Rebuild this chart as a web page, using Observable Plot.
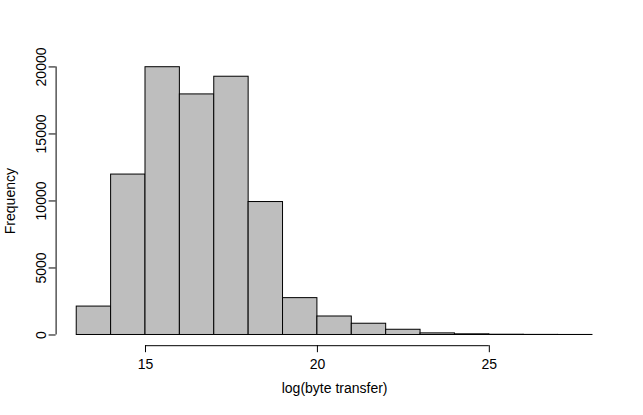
<!DOCTYPE html>
<html>
<head>
<meta charset="utf-8">
<script src="https://cdn.jsdelivr.net/npm/d3@7"></script>
<script src="https://cdn.jsdelivr.net/npm/@observablehq/plot@0.6"></script>
<style>
  html, body { margin: 0; padding: 0; background: #fff; }
</style>
</head>
<body>
<div id="chart"></div>
<script>
// Histogram bins (log byte transfer) and frequencies
const binStarts = [13, 14, 15, 16, 17, 18, 19, 20, 21, 22, 23, 24, 25, 26, 27];
const binWidth = 1;
const counts = [2120, 11970, 19980, 17950, 19270, 9920, 2750, 1380, 840, 390, 120, 50, 20, 8, 3];
const xTicks = [15, 20, 25];
const yTicks = [0, 5000, 10000, 15000, 20000];
const xTitle = "log(byte transfer)";
const yTitle = "Frequency";

const bins = binStarts.map((s, i) => ({x1: s, x2: s + binWidth, count: counts[i]}));

// R-style 4% axis extension
const xMin = d3.min(binStarts), xMax = d3.max(binStarts) + binWidth;
const xPad = 0.04 * (xMax - xMin);
const yMax = d3.max(counts);
const yPad = 0.04 * yMax;
const xDomain = [xMin - xPad, xMax + xPad];
const yDomain = [-yPad, yMax + yPad];

const chart = Plot.plot({
  width: 643,
  height: 415,
  marginLeft: 55.6,
  marginRight: 30.4,
  marginTop: 56,
  marginBottom: 69.8,
  style: {
    fontFamily: "'Liberation Sans', Arial, Helvetica, sans-serif",
    fontSize: "14px",
    background: "#fff",
    color: "#000"
  },
  x: {domain: xDomain, axis: null},
  y: {domain: yDomain, axis: null},
  marks: [
    Plot.rectY(bins, {x1: "x1", x2: "x2", y1: 0, y2: "count", fill: "#BEBEBE", stroke: "#000", strokeWidth: 1}),
    // x axis line spanning the tick range
    Plot.ruleY([yDomain[0]], {x1: xTicks[0], x2: xTicks[xTicks.length - 1], stroke: "#000"}),
    Plot.axisX({ticks: xTicks, tickSize: 7, tickPadding: 6, tickFormat: d => String(d), label: null, stroke: "#000", strokeOpacity: 1}),
    // y axis line spanning the tick range
    Plot.ruleX([xDomain[0]], {y1: yTicks[0], y2: yTicks[yTicks.length - 1], stroke: "#000"}),
    Plot.axisY({ticks: yTicks, tickSize: 7, tickPadding: 3, tickRotate: -90, tickFormat: d => String(d), label: null, stroke: "#000", strokeOpacity: 1}),
    Plot.text([xTitle], {frameAnchor: "bottom", dy: 43, textAnchor: "middle", lineAnchor: "middle", fill: "#000"}),
    Plot.text([yTitle], {frameAnchor: "left", dx: -46, rotate: -90, textAnchor: "middle", lineAnchor: "middle", fill: "#000"})
  ]
});
document.getElementById("chart").appendChild(chart);
</script>
</body>
</html>
